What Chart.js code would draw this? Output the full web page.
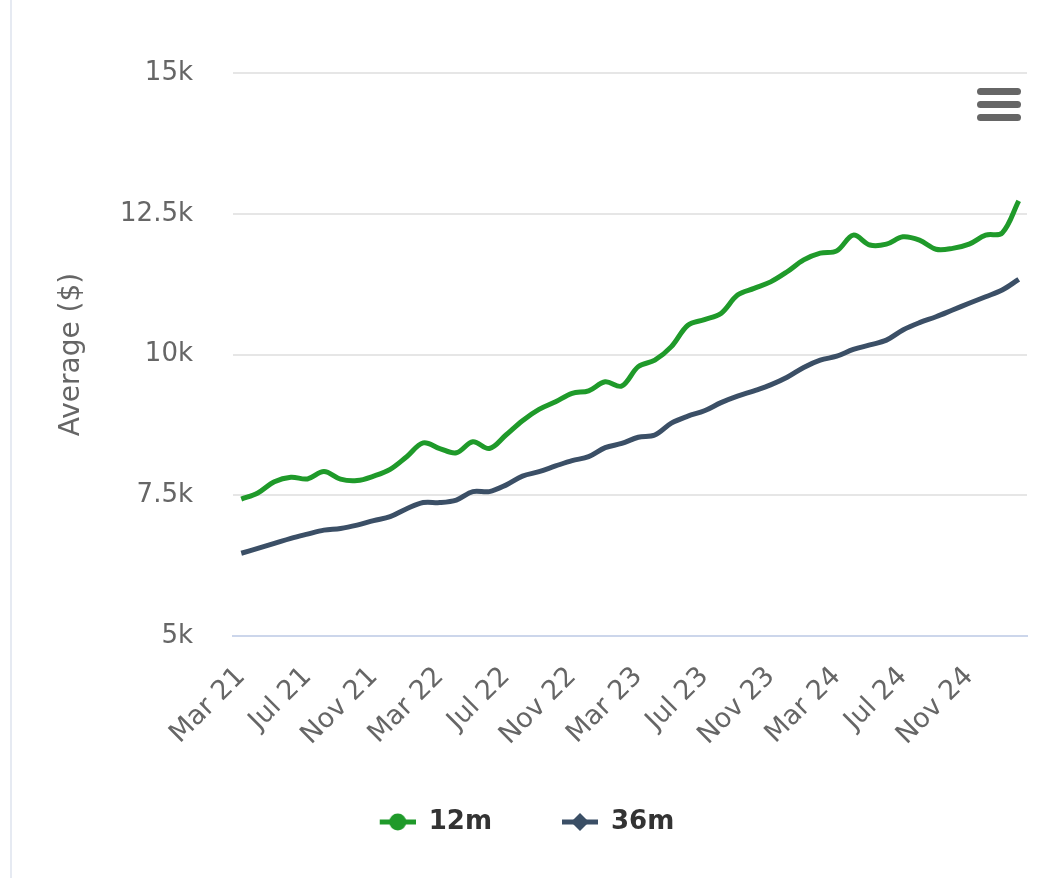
<!DOCTYPE html>
<html>
<head>
<meta charset="utf-8">
<script src="https://cdn.jsdelivr.net/npm/chart.js@4.4.1/dist/chart.umd.min.js"></script>
<style>
  html, body { margin: 0; padding: 0; background: #fff; }
  #wrap { position: relative; width: 1048px; height: 878px; }
  #edge { position: absolute; left: 10px; top: 0; width: 2px; height: 878px; background: #e6eaf2; }
  .menu-bar { position: absolute; left: 977px; width: 44px; height: 7px; border-radius: 4px; background: #666; }
</style>
</head>
<body>
<div id="wrap">
  <div id="edge"></div>
  <canvas id="averageChart"></canvas>
  <div class="menu-bar" style="top: 88px"></div>
  <div class="menu-bar" style="top: 101px"></div>
  <div class="menu-bar" style="top: 114px"></div>
</div>
<script>
const months = [
    'Mar 21', 'Apr 21', 'May 21', 'Jun 21', 'Jul 21', 'Aug 21', 'Sep 21', 'Oct 21', 'Nov 21', 'Dec 21', 'Jan 22', 'Feb 22',
    'Mar 22', 'Apr 22', 'May 22', 'Jun 22', 'Jul 22', 'Aug 22', 'Sep 22', 'Oct 22', 'Nov 22', 'Dec 22', 'Jan 23', 'Feb 23',
    'Mar 23', 'Apr 23', 'May 23', 'Jun 23', 'Jul 23', 'Aug 23', 'Sep 23', 'Oct 23', 'Nov 23', 'Dec 23', 'Jan 24', 'Feb 24',
    'Mar 24', 'Apr 24', 'May 24', 'Jun 24', 'Jul 24', 'Aug 24', 'Sep 24', 'Oct 24', 'Nov 24', 'Dec 24', 'Jan 25', 'Feb 25'
];

const avg12m = [
    7430, 7540, 7740, 7820, 7790, 7920, 7785, 7760, 7840, 7960, 8185, 8430,
    8330, 8255, 8450, 8330, 8570, 8825, 9025, 9160, 9310, 9355, 9515, 9440,
    9785, 9900, 10140, 10520, 10620, 10730, 11055, 11175, 11290, 11470, 11680, 11800,
    11840, 12120, 11945, 11960, 12090, 12030, 11870, 11885, 11960, 12120, 12160, 12730
];

const avg36m = [
    6470, 6555, 6645, 6735, 6810, 6880, 6910, 6970, 7050, 7120, 7260, 7370,
    7370, 7415, 7565, 7565, 7680, 7840, 7920, 8020, 8115, 8185, 8345, 8420,
    8530, 8570, 8780, 8905, 9000, 9145, 9260, 9355, 9460, 9595, 9770, 9900,
    9970, 10090, 10170, 10255, 10435, 10565, 10670, 10790, 10910, 11025, 11145, 11335
];

const yTicks = [5000, 7500, 10000, 12500, 15000];

const green = '#1f9a2a';
const slate = '#3b4f66';

// legend icon: line with its marker, blank space on the left keeps the items apart
const iconGap = 27;
function legendIcon(color, shape) {
    const c = document.createElement('canvas');
    c.width = 36 + iconGap;
    c.height = 22;
    const g = c.getContext('2d');
    const x0 = iconGap, mid = iconGap + 18;
    g.strokeStyle = color;
    g.lineWidth = 5;
    g.beginPath();
    g.moveTo(x0, 11);
    g.lineTo(x0 + 36, 11);
    g.stroke();
    g.fillStyle = color;
    g.beginPath();
    if (shape === 'circle') {
        g.arc(mid, 11, 8.5, 0, Math.PI * 2);
    } else {
        g.moveTo(mid, 2);
        g.lineTo(mid + 9, 11);
        g.lineTo(mid, 20);
        g.lineTo(mid - 9, 11);
        g.closePath();
    }
    g.fill();
    return c;
}
const icons = [legendIcon(green, 'circle'), legendIcon(slate, 'diamond')];

Chart.defaults.font.family = '"DejaVu Sans", Verdana, sans-serif';

const ctx = document.getElementById('averageChart').getContext('2d');
new Chart(ctx, {
    type: 'line',
    data: {
        labels: months,
        datasets: [
            { label: '12m', data: avg12m, borderColor: green, backgroundColor: green },
            { label: '36m', data: avg36m, borderColor: slate, backgroundColor: slate }
        ]
    },
    options: {
        responsive: true,
        maintainAspectRatio: false,
        animation: false,
        layout: { padding: { left: 0, right: 21, top: 73, bottom: 33 } },
        elements: {
            line: { borderWidth: 5, tension: 0.35, fill: false },
            point: { radius: 0, hoverRadius: 0 }
        },
        scales: {
            x: {
                offset: true,
                grid: { display: false },
                border: { display: true, color: '#ccd6eb', width: 2 },
                ticks: {
                    autoSkip: false,
                    minRotation: 45,
                    maxRotation: 45,
                    padding: 17,
                    color: '#666',
                    font: { size: 27 },
                    callback: (v, i) => (i % 4 === 0 ? months[i] : '')
                },
                afterFit: s => {
                    s.height = 130;
                    s.paddingLeft = 0;
                    s.paddingRight = 0;
                }
            },
            y: {
                min: 5000,
                max: 15000,
                afterBuildTicks: s => { s.ticks = yTicks.map(v => ({ value: v })); },
                grid: {
                    drawTicks: false,
                    lineWidth: 2,
                    color: c => (c.tick && c.tick.value === 5000 ? 'rgba(0,0,0,0)' : '#e6e6e6')
                },
                border: { display: false },
                ticks: {
                    padding: 40,
                    color: '#666',
                    font: { size: 26 },
                    callback: v => (v / 1000) + 'k'
                },
                title: {
                    display: true,
                    text: 'Average ($)',
                    color: '#666',
                    font: { size: 28 },
                    padding: { top: 55, bottom: 0 }
                },
                afterFit: s => { s.width = 233; }
            }
        },
        plugins: {
            tooltip: { enabled: false },
            legend: {
                position: 'bottom',
                labels: {
                    usePointStyle: true,
                    pointStyleWidth: 36 + iconGap,
                    padding: 43,
                    color: '#333',
                    font: { size: 26, weight: 'bold' },
                    generateLabels: chart => chart.data.datasets.map((ds, i) => ({
                        text: ds.label,
                        pointStyle: icons[i],
                        fillStyle: ds.borderColor,
                        strokeStyle: ds.borderColor,
                        lineWidth: 0,
                        fontColor: '#333',
                        hidden: !chart.isDatasetVisible(i),
                        datasetIndex: i
                    }))
                }
            }
        }
    }
});
</script>
</body>
</html>
